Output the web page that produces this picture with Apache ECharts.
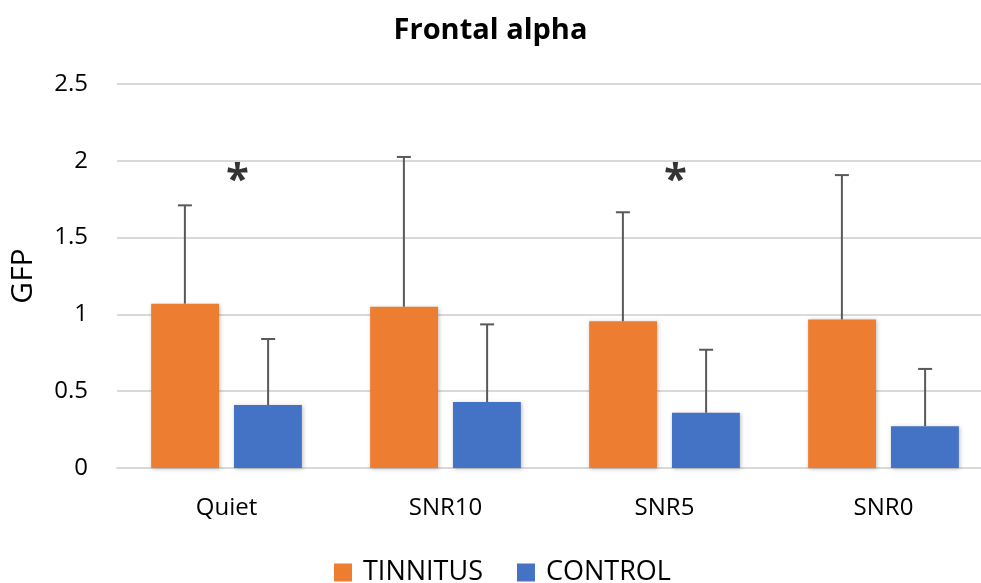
<!DOCTYPE html>
<html>
<head>
<meta charset="utf-8">
<script src="https://cdn.jsdelivr.net/npm/echarts@6/dist/echarts.min.js"></script>
<style>
html,body{margin:0;padding:0;background:#fff;overflow:hidden;}
#chart{width:981px;height:583px;}
</style>
</head>
<body>
<div id="chart"></div>
<script>
const categories = ['Quiet', 'SNR10', 'SNR5', 'SNR0'];
const tinnitusMean = [1.07, 1.05, 0.955, 0.967];
const tinnitusSD = [0.64, 0.975, 0.71, 0.94];
const controlMean = [0.41, 0.43, 0.36, 0.272];
const controlSD = [0.43, 0.505, 0.41, 0.373];
const significant = ['Quiet', 'SNR5'];
const sigLevel = 1.9;
const yTicks = [0, 0.5, 1, 1.5, 2, 2.5];

const FONT = '"Open Sans", "Noto Sans", sans-serif';
const ORANGE = '#ED7D31';
const BLUE = '#4472C4';
const BAR_FRAC = 0.31;   // bar width as fraction of band
const OFF_FRAC = 0.19;   // bar center offset as fraction of band

function errorSeries(name, means, sds, sign) {
  return {
    type: 'custom',
    name: name + ' err',
    z: 5,
    silent: true,
    clip: false,
    data: means.map((m, i) => [i, m, m + sds[i]]),
    renderItem: function (params, api) {
      const i = api.value(0);
      const band = api.size([1, 0])[0];
      const base = api.coord([i, api.value(1)]);
      const top = api.coord([i, api.value(2)]);
      const x = base[0] + sign * band * OFF_FRAC;
      const style = { stroke: '#595959', lineWidth: 2 };
      return {
        type: 'group',
        children: [
          { type: 'line', shape: { x1: x, y1: base[1], x2: x, y2: top[1] }, style: style },
          { type: 'line', shape: { x1: x - 7, y1: top[1], x2: x + 7, y2: top[1] }, style: style }
        ]
      };
    }
  };
}

const chart = echarts.init(document.getElementById('chart'));
chart.setOption({
  backgroundColor: '#ffffff',
  animation: false,
  title: {
    text: 'Frontal alpha',
    left: 'center',
    top: 11,
    textStyle: { fontFamily: FONT, fontSize: 29, fontWeight: 'bold', color: '#000' }
  },
  legend: {
    top: 554,
    left: 329,
    icon: 'rect',
    itemWidth: 18,
    itemHeight: 18,
    itemGap: 34,
    data: ['TINNITUS', 'CONTROL'],
    textStyle: { fontFamily: FONT, fontSize: 27, color: '#000', padding: [0, 0, 0, 6] }
  },
  grid: { left: 117, width: 876, top: 84, bottom: 115, containLabel: false, outerBoundsMode: 'none' },
  xAxis: {
    type: 'category',
    data: categories,
    axisTick: { show: false },
    axisLine: { lineStyle: { color: '#d9d9d9', width: 2 } },
    axisLabel: { fontFamily: FONT, fontSize: 24, color: '#000', margin: 28 }
  },
  yAxis: {
    type: 'value',
    name: 'GFP',
    nameLocation: 'middle',
    nameGap: 79,
    nameTextStyle: { fontFamily: FONT, fontSize: 30, color: '#000' },
    min: yTicks[0],
    max: yTicks[yTicks.length - 1],
    interval: yTicks[1] - yTicks[0],
    axisLine: { show: false },
    axisTick: { show: false },
    axisLabel: { fontFamily: FONT, fontSize: 24, color: '#000', margin: 29 },
    splitLine: { lineStyle: { color: '#d9d9d9', width: 2 } }
  },
  series: [
    {
      type: 'bar',
      name: 'TINNITUS',
      data: tinnitusMean,
      barWidth: (BAR_FRAC * 100) + '%',
      barGap: '22%',
      itemStyle: { color: ORANGE, shadowBlur: 4, shadowColor: 'rgba(0,0,0,0.25)', shadowOffsetX: 1, shadowOffsetY: 1 }
    },
    {
      type: 'bar',
      name: 'CONTROL',
      data: controlMean,
      barWidth: (BAR_FRAC * 100) + '%',
      barGap: '22%',
      itemStyle: { color: BLUE, shadowBlur: 4, shadowColor: 'rgba(0,0,0,0.25)', shadowOffsetX: 1, shadowOffsetY: 1 }
    },
    errorSeries('TINNITUS', tinnitusMean, tinnitusSD, -1),
    errorSeries('CONTROL', controlMean, controlSD, 1),
    {
      type: 'scatter',
      name: 'sig',
      symbolSize: 1,
      itemStyle: { color: 'rgba(0,0,0,0)' },
      silent: true,
      data: significant.map(c => [c, sigLevel]),
      label: {
        show: true,
        position: 'inside',
        formatter: '*',
        offset: [11, 5],
        fontFamily: FONT,
        fontSize: 42,
        fontWeight: 'bold',
        color: '#000'
      }
    }
  ]
});
</script>
</body>
</html>
